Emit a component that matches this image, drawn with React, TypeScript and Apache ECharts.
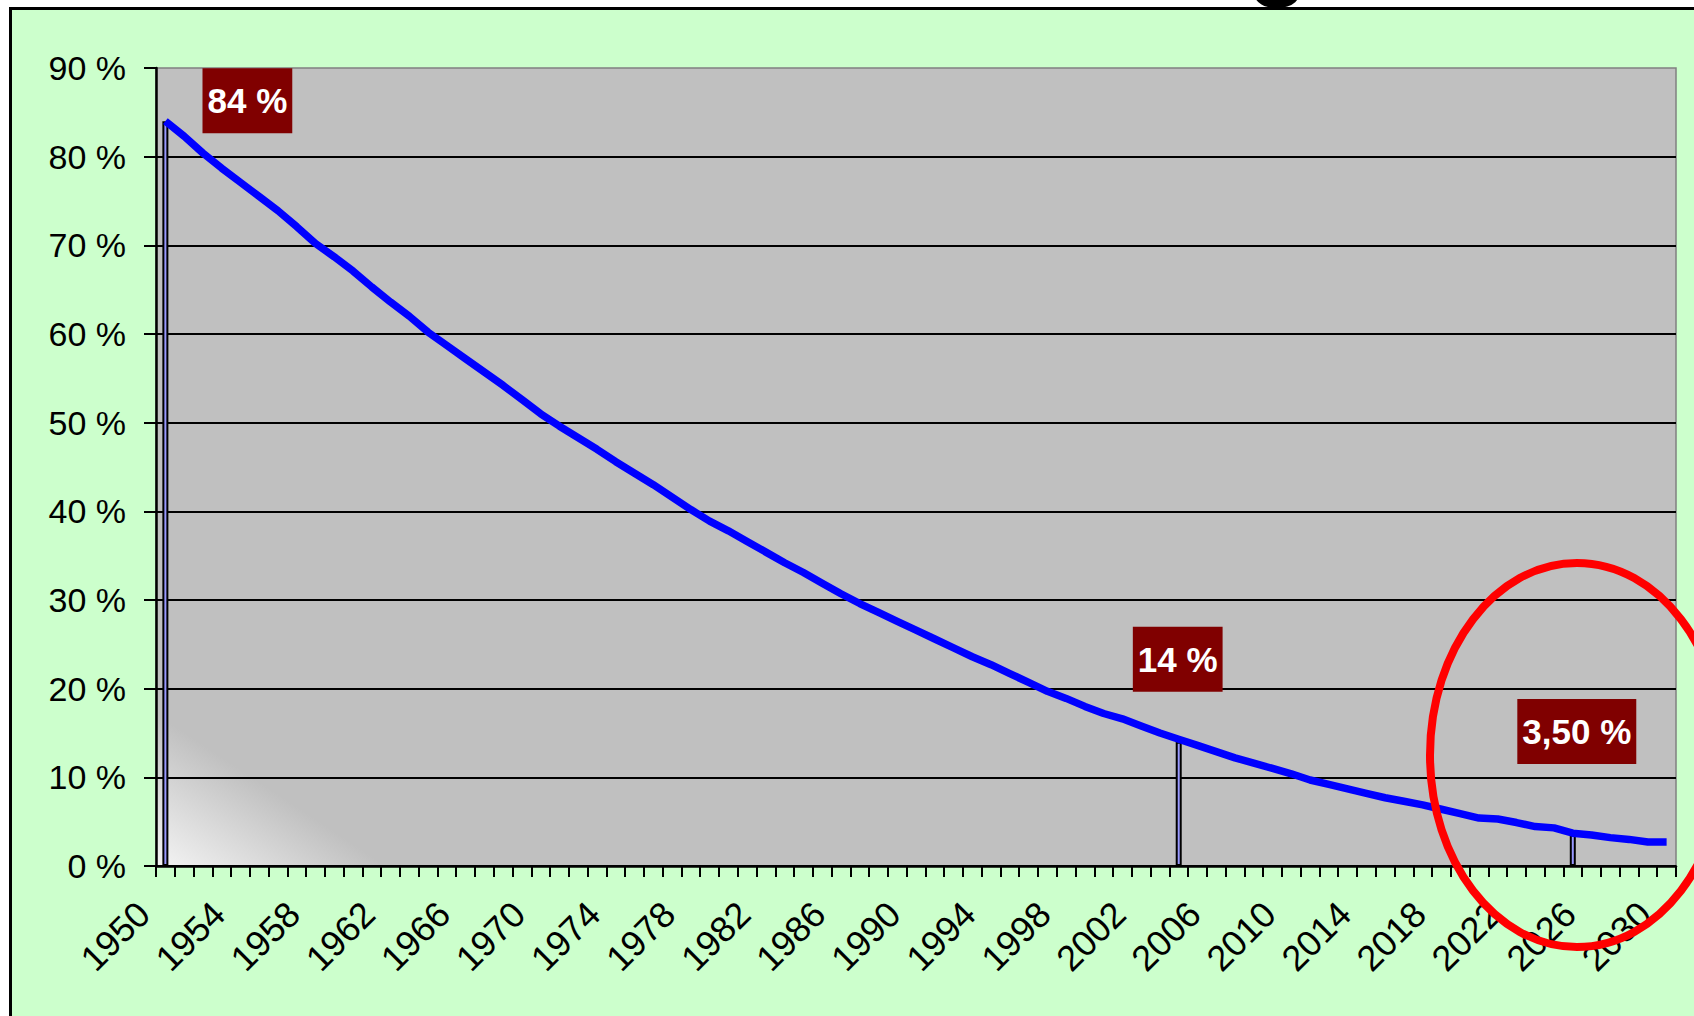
import React, { useEffect, useRef } from "react";
import * as echarts from "echarts";

// ---- data ----
const years: string[] = [];
for (let y = 1950; y <= 2030; y++) years.push(String(y));

// share in % per year 1950..2030
const shareValues = [
  84.0, 82.3, 80.4, 78.7, 77.1, 75.5, 73.9, 72.1, 70.2, 68.7,
  67.1, 65.3, 63.6, 62.0, 60.2, 58.7, 57.2, 55.7, 54.2, 52.6,
  51.0, 49.6, 48.3, 47.0, 45.6, 44.3, 43.0, 41.6, 40.2, 38.9,
  37.8, 36.6, 35.4, 34.2, 33.1, 31.9, 30.7, 29.6, 28.6, 27.6,
  26.6, 25.6, 24.6, 23.6, 22.7, 21.7, 20.7, 19.7, 18.9, 18.0,
  17.2, 16.6, 15.8, 15.0, 14.3, 13.6, 12.9, 12.2, 11.6, 11.0,
  10.4, 9.7, 9.2, 8.7, 8.2, 7.7, 7.3, 6.9, 6.4, 5.9,
  5.4, 5.3, 4.9, 4.45, 4.3, 3.7, 3.5, 3.2, 3.0, 2.7,
  2.7,
];

const highlightYears = ["1950", "2004", "2025"];
const highlightValues = [84, 14, 3.5];
const highlightLabels = ["84 %", "14 %", "3,50 %"];

const titleFragment = "g";

// label placement (style, not data)
const labelOffsets: [number, number][] = [
  [82, 17],
  [-1, -45],
  [4, -66],
];

const FONT = "'Liberation Sans', Arial, Helvetica, sans-serif";

export default function App() {
  const ref = useRef<HTMLDivElement>(null);

  useEffect(() => {
    if (!ref.current) return;
    const chart = echarts.init(ref.current, null, { renderer: "svg" });

    const barData = years.map((y) => {
      const k = highlightYears.indexOf(y);
      if (k < 0) return "-";
      return {
        value: highlightValues[k],
        label: {
          show: true,
          position: "top",
          offset: labelOffsets[k],
          formatter: highlightLabels[k],
        },
      };
    });

    chart.setOption({
      animation: false,
      backgroundColor: "#ffffff",
      graphic: [
        {
          type: "text",
          z: -20,
          x: 1278,
          y: -48,
          style: {
            text: titleFragment,
            fontSize: 100,
            fontWeight: "bold",
            fontFamily: FONT,
            fill: "#000",
            align: "center",
            verticalAlign: "middle",
          },
        },
        {
          type: "rect",
          z: -10,
          shape: { x: 10.5, y: 8.5, width: 1720, height: 1040 },
          style: { fill: "#CCFFCC", stroke: "#000", lineWidth: 3 },
        },
        {
          type: "ellipse",
          z: 100,
          shape: { cx: 1577, cy: 755, rx: 147, ry: 192 },
          style: { fill: "none", stroke: "#FF0000", lineWidth: 8 },
        },
      ],
      grid: {
        left: 156,
        top: 68,
        width: 1520,
        height: 798,
        show: true,
        backgroundColor: new echarts.graphic.LinearGradient(
          156,
          866,
          226,
          760,
          [
            { offset: 0, color: "#F4F4F4" },
            { offset: 1, color: "#C0C0C0" },
          ],
          true
        ),
        borderColor: "#808080",
        borderWidth: 1.5,
      },
      xAxis: {
        type: "category",
        data: years,
        boundaryGap: true,
        axisLine: { lineStyle: { color: "#000", width: 2.5 } },
        axisTick: {
          show: true,
          interval: 0,
          length: 11,
          lineStyle: { color: "#000", width: 2 },
        },
        axisLabel: {
          interval: 3,
          rotate: 45,
          fontSize: 36,
          color: "#000",
          fontFamily: FONT,
          margin: 20,
          padding: [0, 31, 0, 0],
        },
        splitLine: { show: false },
      },
      yAxis: {
        type: "value",
        min: 0,
        max: 90,
        interval: 10,
        axisLine: { show: true, lineStyle: { color: "#000", width: 2.5 } },
        axisTick: { show: true, length: 12, lineStyle: { color: "#000", width: 2 } },
        axisLabel: {
          formatter: "{value} %",
          fontSize: 34,
          color: "#000",
          fontFamily: FONT,
          margin: 30,
        },
        splitLine: {
          show: true,
          showMaxLine: false,
          lineStyle: { color: "#000", width: 2 },
        },
      },
      series: [
        {
          type: "bar",
          data: barData,
          barWidth: 6,
          z: 3,
          itemStyle: { color: "#9999FF", borderColor: "#000", borderWidth: 2 },
          label: {
            color: "#ffffff",
            fontWeight: "bold",
            fontSize: 35,
            fontFamily: FONT,
            backgroundColor: "#800000",
            padding: [15, 5, 15, 5],
            lineHeight: 35,
          },
        },
        {
          type: "line",
          data: shareValues,
          symbol: "none",
          z: 4,
          lineStyle: { color: "#0000FF", width: 7.5 },
        },
      ],
    });

    return () => chart.dispose();
  }, []);

  return (
    <div
      ref={ref}
      style={{ position: "fixed", left: 0, top: 0, width: 1694, height: 1016 }}
    />
  );
}
